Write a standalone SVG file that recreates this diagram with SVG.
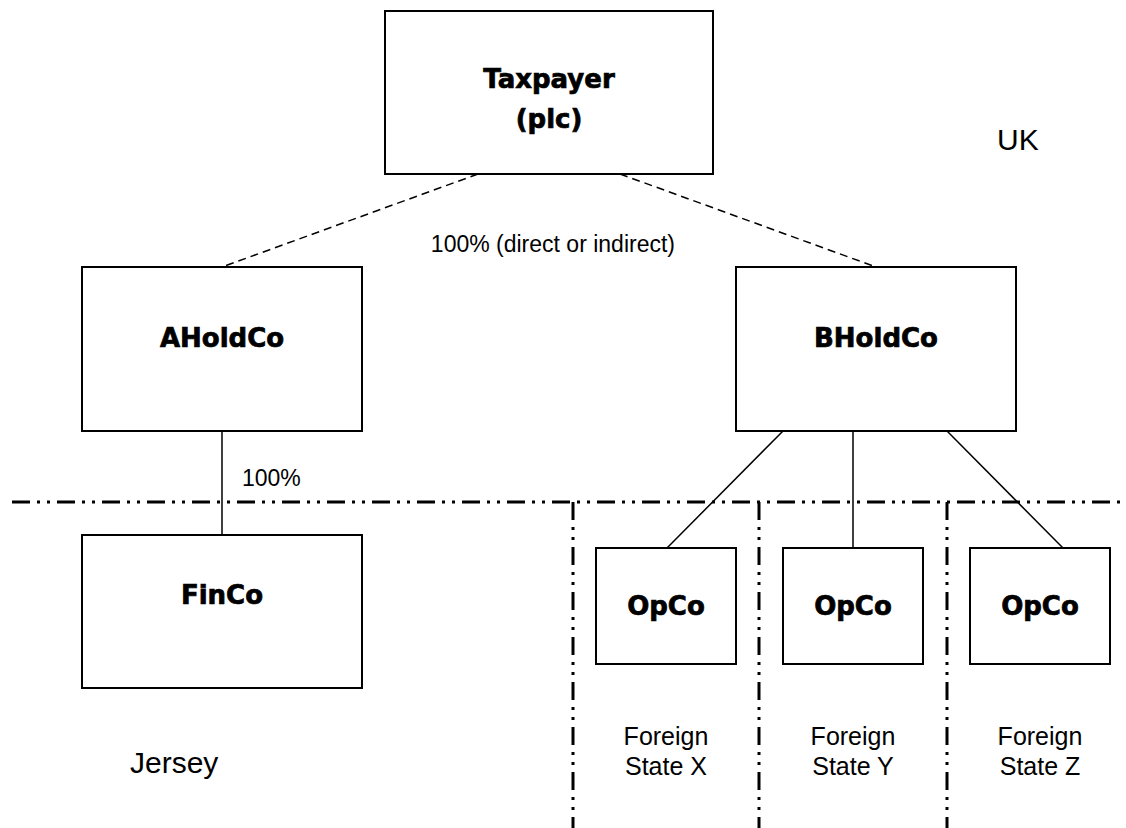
<svg xmlns="http://www.w3.org/2000/svg" width="1126" height="828" viewBox="0 0 1126 828">
<style>
.box{fill:#fff;stroke:#000;stroke-width:2}
.bl{font-family:"DejaVu Sans","Liberation Sans",sans-serif;font-weight:bold;font-size:26px;text-anchor:middle;fill:#000;stroke:#000;stroke-width:0.7}
.rl{font-family:"Liberation Sans",Arial,sans-serif;font-size:25px;fill:#000}
.conn{stroke:#000;stroke-width:1.5;fill:none}
.dash{stroke:#000;stroke-width:1.5;fill:none;stroke-dasharray:8 5}
.dd{stroke:#000;stroke-width:3;fill:none;stroke-dasharray:18 7 3 7 3 7}
</style>
<rect width="1126" height="828" fill="#fff"/>
<g id="borders">
<line class="dd" x1="12" y1="502" x2="1126" y2="502"/>
<line class="dd" x1="573" y1="502" x2="573" y2="828"/>
<line class="dd" x1="759" y1="502" x2="759" y2="828"/>
<line class="dd" x1="947" y1="502" x2="947" y2="828"/>
</g>
<g id="connectors">
<line class="dash" x1="478" y1="174" x2="222" y2="267"/>
<line class="dash" x1="620" y1="174" x2="876" y2="267"/>
<line class="conn" x1="222" y1="431" x2="222" y2="535"/>
<line class="conn" x1="783" y1="431" x2="667" y2="548"/>
<line class="conn" x1="853" y1="431" x2="853" y2="548"/>
<line class="conn" x1="947" y1="431" x2="1063" y2="548"/>
</g>
<g id="taxpayer">
<rect class="box" x="385" y="11" width="328" height="163"/>
<text class="bl" x="549" y="88">Taxpayer</text>
<text class="bl" x="549" y="128">(plc)</text>
</g>
<g id="aholdco">
<rect class="box" x="82" y="267" width="280" height="164"/>
<text class="bl" x="222" y="347">AHoldCo</text>
</g>
<g id="bholdco">
<rect class="box" x="736" y="267" width="280" height="164"/>
<text class="bl" x="876" y="347">BHoldCo</text>
</g>
<g id="finco">
<rect class="box" x="82" y="535" width="280" height="153"/>
<text class="bl" x="222" y="604">FinCo</text>
</g>
<g id="opco1">
<rect class="box" x="596" y="548" width="140" height="116"/>
<text class="bl" x="666" y="615">OpCo</text>
</g>
<g id="opco2">
<rect class="box" x="783" y="548" width="140" height="116"/>
<text class="bl" x="853" y="615">OpCo</text>
</g>
<g id="opco3">
<rect class="box" x="970" y="548" width="140" height="116"/>
<text class="bl" x="1040" y="615">OpCo</text>
</g>
<g id="labels">
<text class="rl" x="675" y="252" text-anchor="end" style="font-size:23px">100% (direct or indirect)</text>
<text class="rl" x="242" y="486" style="font-size:23px">100%</text>
<text class="rl" x="997" y="150" style="font-size:30px">UK</text>
<text class="rl" x="130" y="773" style="font-size:30px">Jersey</text>
<text class="rl" x="666" y="745" text-anchor="middle">Foreign</text>
<text class="rl" x="666" y="775" text-anchor="middle">State X</text>
<text class="rl" x="853" y="745" text-anchor="middle">Foreign</text>
<text class="rl" x="853" y="775" text-anchor="middle">State Y</text>
<text class="rl" x="1040" y="745" text-anchor="middle">Foreign</text>
<text class="rl" x="1040" y="775" text-anchor="middle">State Z</text>
</g>
</svg>
